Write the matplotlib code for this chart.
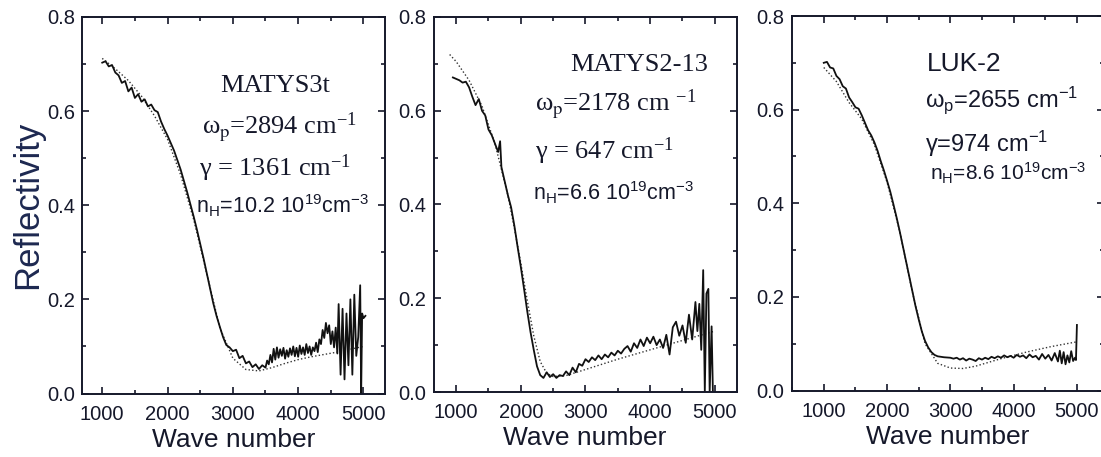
import matplotlib.pyplot as plt
from matplotlib.ticker import MultipleLocator

# MATYS3t: measured reflectivity and Drude fit
m3_wave = [1000, 1050, 1100, 1150, 1200, 1250, 1300, 1350, 1400, 1450, 1500, 1550,
           1600, 1650, 1700, 1750, 1800, 1850, 1900, 1950, 2000, 2050, 2100, 2150,
           2200, 2250, 2300, 2350, 2400, 2450, 2500, 2550, 2600, 2650, 2700, 2750,
           2800, 2850, 2900, 2950, 3000, 3050, 3100, 3150, 3200, 3250, 3300, 3350,
           3400, 3450, 3500, 3525, 3550, 3575, 3600, 3625, 3650, 3675, 3700, 3725,
           3750, 3775, 3800, 3825, 3850, 3875, 3900, 3925, 3950, 3975, 4000, 4025,
           4050, 4075, 4100, 4125, 4150, 4175, 4200, 4225, 4250, 4275, 4300, 4325,
           4350, 4375, 4400, 4425, 4450, 4475, 4500, 4525, 4550, 4575, 4600, 4620,
           4650, 4680, 4710, 4740, 4770, 4800, 4830, 4860, 4890, 4920, 4950, 4965,
           4980, 5000, 5030]
m3_refl = [0.703, 0.706, 0.695, 0.698, 0.682, 0.676, 0.660, 0.664, 0.642, 0.650, 0.628, 0.636,
           0.620, 0.625, 0.610, 0.614, 0.602, 0.598, 0.578, 0.562, 0.548, 0.532, 0.516, 0.496,
           0.476, 0.452, 0.428, 0.402, 0.376, 0.348, 0.318, 0.288, 0.256, 0.224, 0.192, 0.165,
           0.142, 0.120, 0.103, 0.098, 0.090, 0.093, 0.075, 0.080, 0.064, 0.068, 0.056, 0.062,
           0.052, 0.060, 0.055, 0.070, 0.062, 0.082, 0.066, 0.095, 0.072, 0.098, 0.076, 0.094,
           0.080, 0.097, 0.074, 0.092, 0.078, 0.096, 0.082, 0.100, 0.079, 0.097, 0.078, 0.102,
           0.084, 0.098, 0.082, 0.105, 0.086, 0.100, 0.082, 0.098, 0.090, 0.108, 0.088, 0.115,
           0.105, 0.135, 0.118, 0.150, 0.128, 0.145, 0.105, 0.132, 0.098, 0.140, 0.085, 0.190,
           0.040, 0.180, 0.030, 0.170, 0.060, 0.200, 0.040, 0.210, 0.080, 0.120, 0.230, 0.000,
           0.170, 0.160, 0.165]
m3_fit_wave = [1000, 1200, 1400, 1600, 1800, 2000, 2200, 2400, 2600, 2800, 3000,
               3200, 3400, 3600, 3800, 4000, 4200, 4400, 4600, 4800, 5000]
m3_fit = [0.712, 0.690, 0.665, 0.632, 0.590, 0.540, 0.465, 0.370, 0.255, 0.140, 0.075,
          0.051, 0.048, 0.055, 0.064, 0.072, 0.078, 0.083, 0.088, 0.094, 0.100]

# MATYS2-13
m2_wave = [950, 1000, 1050, 1100, 1150, 1200, 1250, 1300, 1350, 1400, 1450, 1500,
           1550, 1600, 1650, 1680, 1700, 1750, 1800, 1850, 1900, 1950, 2000, 2050,
           2100, 2150, 2200, 2250, 2300, 2350, 2400, 2450, 2500, 2550, 2600, 2650,
           2700, 2750, 2800, 2850, 2900, 2950, 3000, 3050, 3100, 3150, 3200, 3250,
           3300, 3350, 3400, 3450, 3500, 3550, 3600, 3650, 3700, 3750, 3800, 3850,
           3900, 3950, 4000, 4050, 4100, 4150, 4200, 4250, 4300, 4350, 4400, 4450,
           4500, 4550, 4600, 4650, 4700, 4730, 4760, 4790, 4820, 4845, 4870, 4900,
           4920, 4950, 4970]
m2_refl = [0.671, 0.668, 0.665, 0.660, 0.662, 0.650, 0.630, 0.612, 0.625, 0.600, 0.590, 0.560,
           0.548, 0.530, 0.512, 0.535, 0.480, 0.450, 0.420, 0.394, 0.355, 0.310, 0.267, 0.220,
           0.172, 0.128, 0.090, 0.055, 0.036, 0.030, 0.042, 0.032, 0.038, 0.030, 0.036, 0.034,
           0.044, 0.036, 0.052, 0.042, 0.060, 0.056, 0.070, 0.064, 0.074, 0.068, 0.078, 0.070,
           0.080, 0.074, 0.084, 0.078, 0.088, 0.082, 0.092, 0.098, 0.086, 0.104, 0.094, 0.112,
           0.098, 0.116, 0.104, 0.118, 0.100, 0.112, 0.094, 0.122, 0.080, 0.138, 0.150, 0.120,
           0.142, 0.105, 0.165, 0.112, 0.192, 0.130, 0.188, 0.090, 0.260, 0.000, 0.210, 0.220,
           0.000, 0.140, 0.000]
m2_fit_wave = [900, 1000, 1200, 1400, 1600, 1800, 1900, 2000, 2100, 2200, 2300, 2400,
               2500, 2700, 3000, 3500, 4000, 4500, 5000]
m2_fit = [0.720, 0.705, 0.665, 0.610, 0.530, 0.420, 0.350, 0.275, 0.195, 0.120, 0.065, 0.040,
          0.033, 0.035, 0.048, 0.070, 0.090, 0.110, 0.130]

# LUK-2
lk_wave = [1000, 1050, 1100, 1150, 1200, 1250, 1300, 1350, 1400, 1450, 1500, 1550,
           1600, 1650, 1700, 1750, 1800, 1850, 1900, 1950, 2000, 2050, 2100, 2150,
           2200, 2250, 2300, 2350, 2400, 2450, 2500, 2550, 2600, 2650, 2700, 2750,
           2800, 2900, 3000, 3050, 3100, 3150, 3200, 3250, 3300, 3350, 3400, 3450,
           3500, 3550, 3600, 3650, 3700, 3750, 3800, 3850, 3900, 3950, 4000, 4050,
           4100, 4150, 4200, 4250, 4300, 4350, 4400, 4450, 4500, 4550, 4600, 4650,
           4700, 4730, 4760, 4790, 4820, 4850, 4880, 4910, 4940, 4970, 4985, 5000]
lk_refl = [0.700, 0.702, 0.690, 0.688, 0.672, 0.665, 0.650, 0.645, 0.626, 0.616, 0.605, 0.602,
           0.588, 0.572, 0.556, 0.545, 0.530, 0.512, 0.490, 0.470, 0.448, 0.425, 0.398, 0.370,
           0.340, 0.308, 0.276, 0.244, 0.212, 0.180, 0.152, 0.126, 0.106, 0.092, 0.082, 0.076,
           0.073, 0.071, 0.070, 0.068, 0.070, 0.066, 0.069, 0.064, 0.068, 0.066, 0.063, 0.069,
           0.066, 0.070, 0.067, 0.072, 0.069, 0.073, 0.070, 0.075, 0.071, 0.074, 0.070, 0.076,
           0.072, 0.075, 0.069, 0.077, 0.071, 0.074, 0.066, 0.078, 0.068, 0.076, 0.064, 0.080,
           0.062, 0.085, 0.058, 0.082, 0.056, 0.075, 0.060, 0.084, 0.063, 0.070, 0.065, 0.140]
lk_fit_wave = [1000, 1200, 1400, 1600, 1800, 2000, 2200, 2400, 2600, 2800, 3000,
               3200, 3400, 3600, 3800, 4000, 4200, 4400, 4600, 4800, 5000]
lk_fit = [0.690, 0.660, 0.615, 0.580, 0.525, 0.445, 0.340, 0.210, 0.100, 0.058, 0.048,
          0.047, 0.052, 0.060, 0.068, 0.075, 0.082, 0.088, 0.094, 0.099, 0.104]

INK = "#15182a"
SANS = "Liberation Sans"
SERIF = "Liberation Serif"

plt.rcParams["mathtext.fontset"] = "custom"
plt.rcParams["mathtext.rm"] = SANS
plt.rcParams["mathtext.it"] = SANS + ":italic"
plt.rcParams["mathtext.default"] = "regular"

fig = plt.figure(figsize=(11.01, 4.57), dpi=100)


def panel(rect, xlim, wave, refl, fit_wave, fit):
    ax = fig.add_axes(rect)
    ax.plot(fit_wave, fit, color="#333333", lw=1.0, ls=(0, (1, 1.6)))
    ax.plot(wave, refl, color="#111111", lw=1.3)
    ax.set_xlim(*xlim)
    ax.set_ylim(0, 0.8)
    ax.xaxis.set_major_locator(MultipleLocator(1000))
    ax.xaxis.set_minor_locator(MultipleLocator(500))
    ax.yaxis.set_major_locator(MultipleLocator(0.2))
    ax.yaxis.set_minor_locator(MultipleLocator(0.1))
    ax.yaxis.set_major_formatter(lambda v, p: f"{v:.1f}")
    ax.tick_params(which="both", direction="in", top=True, right=True,
                   width=1.2, color=INK, labelcolor=INK, labelsize=14.5)
    ax.tick_params(axis="x", pad=8)
    ax.tick_params(axis="y", pad=5)
    ax.tick_params(which="major", length=5)
    ax.tick_params(which="minor", length=3)
    for lab in ax.get_xticklabels() + ax.get_yticklabels():
        lab.set_family(SANS)
    for sp in ax.spines.values():
        sp.set_linewidth(1.4)
        sp.set_color(INK)
    ax.set_xlabel("Wave number", family=SANS, fontsize=19, color=INK, labelpad=3)
    return ax


def notes(ax, lines, serif_rows):
    for i, (fx, fy, txt) in enumerate(lines):
        if i in serif_rows:
            ax.text(fx, fy, txt, transform=ax.transAxes, family=SERIF, fontsize=19,
                    color=INK, math_fontfamily="stix")
        else:
            ax.text(fx, fy, txt, transform=ax.transAxes, family=SANS, fontsize=15.5,
                    color=INK)


ax1 = panel([82 / 1101, 63.5 / 457, 303 / 1101, 376.5 / 457], (690, 5330),
            m3_wave, m3_refl, m3_fit_wave, m3_fit)
ax1.set_ylabel("Reflectivity", family=SANS, fontsize=25, color="#1d2850", labelpad=2)
notes(ax1, [
    (0.457, 0.802, "MATYS3t"),
    (0.396, 0.690, r"$\omega_{\mathrm{p}}$=2894 cm$^{-1}$"),
    (0.385, 0.579, r"$\gamma$ = 1361 cm$^{-1}$"),
    (0.375, 0.479, r"n$_{\mathrm{H}}$=10.2 10$^{19}$cm$^{-3}$"),
], serif_rows=(0, 1, 2))

ax2 = panel([433.5 / 1101, 65 / 457, 303 / 1101, 375 / 457], (650, 5335),
            m2_wave, m2_refl, m2_fit_wave, m2_fit)
notes(ax2, [
    (0.450, 0.856, "MATYS2-13"),
    (0.335, 0.750, r"$\omega_{\mathrm{p}}$=2178 cm $^{-1}$"),
    (0.335, 0.622, r"$\gamma$ = 647 cm$^{-1}$"),
    (0.330, 0.511, r"n$_{\mathrm{H}}$=6.6 10$^{19}$cm$^{-3}$"),
], serif_rows=(0, 1, 2))

ax3 = panel([791.5 / 1101, 66.5 / 457, 312 / 1101, 374.5 / 457], (490, 5420),
            lk_wave, lk_refl, lk_fit_wave, lk_fit)
for fx, fy, txt, size in [
    (0.434, 0.854, "LUK-2", 19),
    (0.428, 0.756, r"$\omega_{\mathrm{p}}$=2655 cm$^{-1}$", 17),
    (0.428, 0.636, r"$\gamma$=974 cm$^{-1}$", 17),
    (0.444, 0.561, r"n$_{\mathrm{H}}$=8.6 10$^{19}$cm$^{-3}$", 15),
]:
    ax3.text(fx, fy, txt, transform=ax3.transAxes, family=SANS, fontsize=size, color=INK)

fig.savefig("out.png", dpi=100, facecolor="white")
